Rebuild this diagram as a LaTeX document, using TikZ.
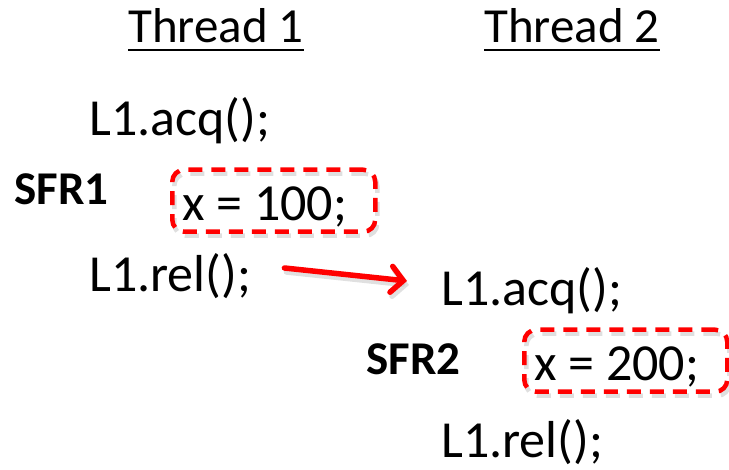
\documentclass[tikz,border=0pt]{standalone}
\usepackage{fontspec}
\setmainfont{Carlito}
\usetikzlibrary{arrows.meta}
\tikzset{
  code/.style={inner sep=0pt, anchor=base west, font=\fontsize{52}{60}\selectfont},
  head/.style={inner sep=0pt, anchor=base west, font=\fontsize{49}{58}\selectfont},
  sfr/.style={inner sep=0pt, anchor=base west, font=\fontsize{47}{56}\selectfont\bfseries},
  sfrbox/.style={draw=red, line width=4.5pt, dash pattern=on 14pt off 9pt, rounded corners=12pt,
    minimum width=203pt, minimum height=62pt, inner sep=0pt, anchor=south west},
  boxshadow/.style={draw=black!25, opacity=0.5, line width=4.5pt, dash pattern=on 14pt off 9pt,
    rounded corners=12pt, minimum width=203pt, minimum height=62pt, inner sep=0pt, anchor=south west},
  hb/.style={red, line width=5.5pt, line cap=round, -{Straight Barb[length=12pt,width=26pt,line cap=round]}},
  hbshadow/.style={black!20, opacity=0.6, line width=5.5pt, line cap=round, -{Straight Barb[length=12pt,width=26pt,line cap=round]}}
}
\begin{document}
\begin{tikzpicture}[x=1pt,y=1pt]
\useasboundingbox (0,0) rectangle (729,470);
% headers
\node[head] (t1) at (128,427) {Thread 1};
\node[head] (t2) at (484,427) {Thread 2};
\draw[line width=2.5pt] ([yshift=-7pt]t1.base west) -- ([yshift=-7pt]t1.base east);
\draw[line width=2.5pt] ([yshift=-7pt]t2.base west) -- ([yshift=-7pt]t2.base east);
% thread 1
\node[code] (a1) at (89,334) {L1.acq();};
\node[sfr] (s1) at (14,265) {SFR1};
\node[boxshadow] (b1s) at (172,232) {};
\node[sfrbox] (b1) at (170,236) {};
\node[code] (x1) at (182,249) {x = 100;};
\node[code] (r1) at (89,178) {L1.rel();};
% thread 2
\node[code] (a2) at (441,164) {L1.acq();};
\node[sfr] (s2) at (366,95) {SFR2};
\node[boxshadow] (b2s) at (524,72) {};
\node[sfrbox] (b2) at (522,76) {};
\node[code] (x2) at (534,89) {x = 200;};
\node[code] (r2) at (441,12) {L1.rel();};
% happens-before arrow
\draw[hbshadow] ([shift={(35pt,20pt)}]r1.base east) -- ([shift={(-32pt,21pt)}]a2.base west);
\draw[hb] ([shift={(33pt,24pt)}]r1.base east) -- ([shift={(-34pt,25pt)}]a2.base west);
\end{tikzpicture}
\end{document}
